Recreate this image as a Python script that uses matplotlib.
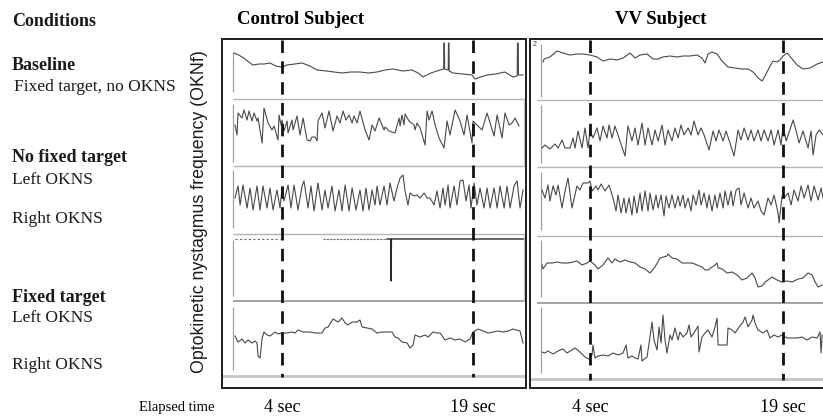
#!/usr/bin/env python3
"""OKN frequency traces for a control and a VV subject, five viewing conditions."""

import matplotlib.pyplot as plt
import numpy as np

plt.rcParams["font.family"] = ["Liberation Serif", "DejaVu Serif"]

FIG_W, FIG_H = 823, 416
TRACE = "#484848"
SEP = "#b4b4b4"

MARKS = [4, 19]  # seconds, dashed markers
MARK_LABELS = ["4 sec", "19 sec"]

# ---- control subject: time (s) / OKNf (arb. units above row baseline) ----
ctrl_base_t = [0.23, 0.6, 1.0, 1.4, 1.72, 2.2, 2.6, 3.06, 3.5, 4.0, 4.39, 5.0,
               5.57, 6.2, 6.75, 7.5, 8.1, 8.71, 9.4, 10.13, 10.8, 11.46, 12.1,
               12.72, 13.5, 14.21, 14.7, 15.08, 15.7, 16.41, 16.70, 16.72, 16.76,
               16.78, 17.06, 17.08, 17.12, 17.14, 17.43, 18.2, 18.93, 19.16, 19.6,
               20.1, 20.8, 21.5, 22.15, 22.48, 22.50, 22.56, 22.58, 22.93]
ctrl_base_v = [46, 44, 41, 37, 34, 35, 35, 36, 33, 32, 34, 35,
               36, 33, 29, 28, 27, 26, 27, 27, 26, 27, 29,
               30, 28, 29, 26, 22, 26, 29, 30, 56, 56,
               30, 29, 56, 56, 28, 26, 25, 24, 20, 22,
               24, 25, 27, 22, 23, 56, 56, 24, 24]

ctrl_nofix_left_t = [0.31, 0.47, 0.55, 0.86, 1.02, 1.26, 1.41, 1.65, 1.81, 2.04,
                     2.12, 2.44, 2.59, 2.91, 3.22, 3.38, 3.69, 3.77, 3.93, 4.01,
                     4.16, 4.40, 4.48, 4.79, 4.87, 5.18, 5.42, 5.66, 5.97, 6.21,
                     6.36, 6.60, 6.76, 6.83, 7.15, 7.38, 7.70, 8.01, 8.33, 8.56,
                     8.80, 9.03, 9.27, 9.51, 9.66, 9.90, 10.13, 10.53, 10.84, 11.08,
                     11.31, 11.63, 12.02, 12.10, 12.41, 12.88, 13.20, 13.28, 13.43, 13.59,
                     13.67, 13.98, 14.38, 14.45, 14.61, 14.85, 15.24, 15.40, 15.55, 15.79,
                     16.03, 16.34, 16.73, 16.97, 17.20, 17.60, 17.99, 18.30, 18.54, 18.93,
                     19.01, 19.32, 19.72, 20.11, 20.66, 20.90, 21.29, 21.52, 21.84, 22.07,
                     22.31, 22.62]
ctrl_nofix_left_v = [41, 31, 53, 48, 56, 46, 55, 45, 53, 45,
                     48, 23, 58, 43, 36, 40, 26, 51, 41, 46,
                     35, 45, 33, 46, 36, 50, 31, 48, 26, 25,
                     29, 29, 25, 45, 53, 38, 55, 35, 50, 43,
                     55, 46, 51, 43, 50, 43, 55, 36, 26, 41,
                     35, 48, 36, 39, 35, 33, 48, 40, 51, 41,
                     52, 45, 41, 36, 43, 38, 21, 55, 46, 55,
                     41, 28, 18, 45, 31, 56, 45, 31, 51, 23,
                     45, 41, 36, 53, 30, 51, 28, 53, 41, 43,
                     48, 40]

ctrl_nofix_right_t = [0.31, 0.55, 0.71, 0.94, 1.26, 1.49, 1.73, 2.04, 2.28, 2.51,
                      2.83, 3.06, 3.30, 3.61, 3.85, 4.01, 4.16, 4.48, 4.71, 4.95,
                      5.26, 5.58, 5.73, 6.05, 6.28, 6.52, 6.83, 7.15, 7.38, 7.62,
                      7.93, 8.17, 8.48, 8.72, 8.96, 9.27, 9.51, 9.82, 10.13, 10.37,
                      10.60, 10.84, 11.08, 11.31, 11.47, 11.70, 12.02, 12.25, 12.49, 12.80,
                      13.04, 13.28, 13.51, 13.67, 13.90, 14.06, 14.38, 14.61, 14.85, 15.16,
                      15.40, 15.63, 15.95, 16.18, 16.42, 16.65, 16.81, 17.05, 17.20, 17.52,
                      17.75, 17.99, 18.22, 18.46, 18.70, 18.85, 19.09, 19.32, 19.56, 19.87,
                      20.11, 20.35, 20.66, 20.90, 21.13, 21.45, 21.68, 21.92, 22.23, 22.47,
                      22.70, 22.94]
ctrl_nofix_right_v = [36, 48, 29, 49, 26, 46, 24, 48, 24, 48,
                      26, 46, 24, 44, 26, 46, 33, 49, 26, 49,
                      24, 48, 53, 26, 48, 23, 51, 24, 44, 26,
                      48, 23, 44, 23, 49, 23, 46, 24, 44, 23,
                      46, 24, 44, 29, 48, 29, 48, 29, 51, 33,
                      46, 56, 59, 43, 29, 41, 38, 39, 36, 41,
                      36, 36, 29, 43, 26, 46, 29, 49, 26, 48,
                      29, 53, 54, 33, 49, 26, 51, 29, 46, 26,
                      46, 26, 46, 26, 48, 26, 48, 26, 48, 53,
                      26, 44]

ctrl_fix_left_t = [0.30, 3.85, 7.25, 12.25, 12.55, 12.57, 12.60, 22.95]
ctrl_fix_left_v = [62, 62, 62, 62, 62, 20, 62, 62]

ctrl_fix_right_t = [0.31, 0.55, 0.86, 1.10, 1.34, 1.65, 1.89, 2.04, 2.12, 2.28,
                    2.44, 2.59, 2.83, 3.06, 3.46, 3.69, 4.01, 4.40, 4.79, 5.03,
                    5.26, 5.66, 6.21, 6.60, 7.15, 7.38, 7.62, 8.01, 8.41, 8.72,
                    8.96, 9.19, 9.51, 9.90, 10.13, 10.29, 10.68, 11.08, 11.47, 11.86,
                    12.25, 12.65, 12.88, 13.12, 13.43, 13.83, 14.06, 14.30, 14.45, 14.85,
                    15.24, 15.48, 15.87, 16.18, 16.42, 16.81, 17.20, 17.60, 17.99, 18.38,
                    18.77, 19.01, 19.40, 19.80, 20.19, 20.58, 20.97, 21.37, 21.76, 22.15,
                    22.70, 22.94]
ctrl_fix_right_v = [40, 34, 37, 33, 36, 33, 35, 33, 20, 18,
                    38, 44, 41, 40, 44, 42, 43, 43, 44, 43,
                    46, 44, 44, 43, 43, 48, 49, 57, 54, 58,
                    53, 51, 54, 54, 56, 49, 48, 47, 43, 44,
                    44, 44, 39, 38, 34, 33, 28, 31, 41, 39,
                    41, 39, 44, 43, 43, 36, 38, 36, 37, 34,
                    37, 44, 47, 45, 43, 44, 45, 44, 45, 47,
                    45, 33]

# ---- VV subject ----
vv_base_t = [0.35, 0.43, 0.89, 1.44, 1.90, 2.45, 2.99, 3.46, 4.00, 4.55,
             5.01, 5.56, 6.10, 6.57, 7.11, 7.50, 7.89, 8.43, 8.90, 9.29,
             9.67, 10.22, 10.76, 11.23, 11.77, 12.32, 12.70, 12.94, 13.17, 13.48,
             13.87, 14.26, 14.72, 15.27, 15.81, 16.28, 16.67, 17.06, 17.37, 17.60,
             17.99, 18.22, 18.53, 18.76, 19.00, 19.31, 19.70, 20.09, 20.55, 21.10,
             21.64, 22.11]
vv_base_v = [38, 41, 43, 49, 47, 45, 46, 46, 45, 43,
             39, 41, 40, 42, 47, 42, 45, 46, 41, 41,
             43, 44, 43, 44, 44, 45, 42, 37, 46, 48,
             46, 39, 33, 32, 31, 31, 28, 22, 19, 24,
             34, 39, 38, 40, 44, 47, 41, 35, 31, 32,
             36, 38]

vv_nofix_left_t = [0.27, 0.50, 0.89, 1.28, 1.52, 1.83, 2.06, 2.45, 2.68, 2.84,
                   3.07, 3.38, 3.61, 3.85, 4.00, 4.23, 4.55, 4.78, 5.01, 5.32,
                   5.48, 5.71, 5.94, 6.72, 6.95, 7.26, 7.50, 7.73, 8.04, 8.28,
                   8.51, 8.82, 9.05, 9.29, 9.60, 9.83, 10.06, 10.37, 10.60, 10.84,
                   11.07, 11.30, 11.62, 11.85, 12.08, 12.39, 12.63, 12.86, 13.25, 13.56,
                   13.79, 14.02, 14.34, 14.57, 14.80, 15.19, 15.50, 15.73, 15.97, 16.28,
                   16.51, 16.74, 17.05, 17.29, 17.52, 17.83, 18.07, 18.30, 18.61, 18.84,
                   19.00, 19.24, 19.78, 20.01, 20.24, 20.55, 20.94, 21.17, 21.33, 21.56,
                   21.80, 22.11]
vv_nofix_left_v = [19, 22, 18, 23, 19, 27, 19, 19, 29, 19,
                   36, 19, 39, 19, 37, 29, 39, 26, 41, 29,
                   42, 29, 41, 11, 41, 26, 39, 22, 44, 22,
                   39, 22, 37, 26, 42, 22, 37, 26, 39, 29,
                   42, 32, 39, 32, 46, 32, 39, 32, 17, 36,
                   26, 37, 26, 36, 27, 11, 37, 27, 39, 27,
                   37, 26, 37, 26, 37, 26, 37, 22, 37, 22,
                   41, 26, 47, 36, 24, 36, 19, 36, 12, 32,
                   37, 32]

vv_nofix_right_t = [0.27, 0.50, 0.74, 0.89, 1.13, 1.36, 1.52, 1.83, 2.06, 2.29,
                    2.60, 2.99, 3.22, 3.46, 3.85, 4.00, 4.16, 4.47, 4.62, 4.86,
                    5.17, 5.48, 5.79, 6.02, 6.18, 6.41, 6.64, 6.80, 7.03, 7.26,
                    7.42, 7.65, 7.89, 8.04, 8.28, 8.51, 8.66, 8.90, 9.13, 9.29,
                    9.52, 9.75, 9.91, 10.14, 10.37, 10.60, 10.84, 10.99, 11.23, 11.38,
                    11.62, 11.85, 12.01, 12.24, 12.47, 12.63, 12.86, 13.09, 13.25, 13.48,
                    13.71, 13.87, 14.10, 14.34, 14.49, 14.72, 14.96, 15.11, 15.35, 15.58,
                    15.73, 15.97, 16.28, 16.51, 16.74, 17.05, 17.29, 17.52, 17.83, 18.07,
                    18.30, 18.61, 18.69, 18.92, 19.08, 19.39, 19.62, 19.85, 20.16, 20.40,
                    20.63, 20.94, 21.17, 21.41, 21.72, 21.95, 22.11]
vv_nofix_right_v = [46, 38, 51, 35, 50, 41, 51, 28, 45, 58,
                    28, 50, 46, 53, 53, 55, 45, 50, 46, 52,
                    45, 51, 38, 25, 41, 23, 38, 23, 38, 21,
                    40, 23, 43, 25, 45, 25, 43, 26, 41, 28,
                    41, 20, 40, 28, 41, 28, 40, 30, 41, 28,
                    38, 25, 41, 31, 46, 31, 43, 28, 41, 25,
                    41, 28, 43, 28, 45, 31, 45, 30, 46, 48,
                    31, 43, 28, 38, 28, 35, 25, 21, 38, 31,
                    41, 23, 13, 40, 38, 43, 31, 46, 35, 50,
                    38, 51, 35, 50, 36, 48, 38]

vv_fix_left_t = [0.27, 0.35, 0.66, 1.05, 1.44, 1.83, 2.29, 2.68, 2.99, 3.38,
                 3.77, 4.00, 4.39, 4.62, 5.01, 5.40, 5.71, 5.94, 6.33, 6.72,
                 7.11, 7.50, 7.89, 8.28, 8.66, 9.05, 9.44, 9.98, 10.06, 10.37,
                 10.76, 11.15, 11.54, 11.93, 12.32, 12.70, 12.94, 13.17, 13.48, 13.71,
                 13.87, 13.95, 14.26, 14.65, 15.04, 15.43, 15.81, 16.20, 16.59, 16.82,
                 17.05, 17.37, 17.60, 17.83, 18.14, 18.53, 18.92, 19.31, 19.70, 20.16,
                 20.55, 20.94, 21.25, 21.49, 21.72, 22.03]
vv_fix_left_v = [38, 34, 40, 40, 41, 40, 40, 41, 42, 38,
                 40, 42, 38, 34, 38, 45, 40, 44, 41, 43,
                 41, 40, 36, 34, 30, 36, 45, 47, 49, 45,
                 44, 40, 40, 40, 38, 36, 33, 33, 36, 38,
                 40, 35, 34, 30, 31, 28, 23, 25, 30, 25,
                 16, 17, 21, 23, 26, 23, 21, 22, 21, 24,
                 25, 30, 28, 21, 16, 18]

vv_fix_right_t = [0.27, 0.50, 0.74, 1.13, 1.52, 1.90, 2.21, 2.60, 2.84, 3.22,
                  3.61, 3.92, 4.16, 4.23, 4.39, 4.62, 5.01, 5.40, 5.79, 6.18,
                  6.57, 6.80, 6.95, 7.26, 7.50, 7.73, 7.96, 8.04, 8.43, 8.66,
                  8.82, 8.97, 9.21, 9.36, 9.52, 9.67, 9.83, 9.98, 10.22, 10.37,
                  10.60, 10.84, 10.99, 11.23, 11.54, 11.69, 11.85, 12.08, 12.39, 12.47,
                  12.70, 12.94, 13.17, 13.48, 13.71, 13.87, 13.95, 14.65, 14.72, 15.04,
                  15.27, 15.58, 15.89, 16.05, 16.28, 16.59, 16.67, 16.82, 17.05, 17.44,
                  17.75, 17.99, 18.30, 18.61, 18.92, 19.31, 19.70, 20.09, 20.47, 20.86,
                  21.25, 21.64, 21.87, 21.95, 22.03]
vv_fix_right_v = [27, 26, 28, 25, 28, 30, 26, 29, 31, 27,
                  22, 20, 24, 34, 21, 23, 24, 23, 26, 24,
                  26, 34, 21, 23, 21, 20, 34, 18, 22, 42,
                  57, 39, 29, 52, 36, 64, 39, 26, 44, 39,
                  51, 39, 47, 42, 46, 54, 42, 46, 53, 27,
                  42, 46, 49, 42, 52, 61, 34, 34, 51, 49,
                  46, 52, 57, 62, 52, 59, 64, 56, 49, 46,
                  49, 41, 44, 42, 44, 41, 41, 41, 42, 39,
                  42, 41, 47, 26, 44]

CONDITIONS = [
    ("Conditions", True, 12, 21),
    ("Baseline", True, 12, 65),
    ("Fixed target, no OKNS", False, 14, 87),
    ("No fixed target", True, 12, 157),
    ("Left OKNS", False, 12, 180),
    ("Right OKNS", False, 12, 219),
    ("Fixed target", True, 12, 297),
    ("Left OKNS", False, 12, 318),
    ("Right OKNS", False, 12, 365),
]


def fx(px):
  return px / FIG_W


def fy(py):
  return 1 - py / FIG_H


def add_panel(fig, left, right, t_left, t_right, right_spine=True):
  ax = fig.add_axes([fx(left), fy(388), fx(right) - fx(left), fy(39) - fy(388)])
  ax.set_xlim(t_left, t_right)
  ax.set_ylim(388, 39)
  ax.set_xticks([])
  ax.set_yticks([])
  for spine in ax.spines.values():
    spine.set_color("#1e1e1e")
    spine.set_linewidth(1.4)
  ax.spines["right"].set_visible(right_spine)
  return ax


def draw_rows(ax, rows, bases, axis_t, axis_spans, sep_start, t_left, t_right):
  for y in bases[:3]:
    ax.hlines(y, sep_start, t_right, color=SEP, linewidth=1.0)
  ax.hlines(bases[3], sep_start, t_right, color="#8a8a8a", linewidth=1.1)
  ax.hlines(bases[4], t_left, t_right, color="#c4c4c4", linewidth=2.0)
  for y0, y1 in axis_spans:
    ax.vlines(axis_t, y0, y1, color="#a0a0a0", linewidth=0.9)
  for (t, v), base in zip(rows, bases):
    if t is None:
      continue
    ax.plot(t, base - np.asarray(v, dtype=float), color=TRACE, linewidth=0.8)


fig = plt.figure(figsize=(FIG_W / 100, FIG_H / 100), dpi=100)

# control subject panel
ax_c = add_panel(fig, 222, 526, -0.71, 23.17)
ctrl_bases = [99, 166, 234, 301, 376]
draw_rows(
    ax_c,
    [(ctrl_base_t, ctrl_base_v), (ctrl_nofix_left_t, ctrl_nofix_left_v),
     (ctrl_nofix_right_t, ctrl_nofix_right_v), (None, None),
     (ctrl_fix_right_t, ctrl_fix_right_v)],
    ctrl_bases, 0.16,
    [(52, 92), (104, 162), (170, 228), (240, 296), (307, 370)],
    0.16, -0.71, 23.17,
)
ax_c.vlines(23.0, 99, 166, color="#c8c8c8", linewidth=0.9)
ax_c.vlines(23.0, 234, 301, color="#c8c8c8", linewidth=0.9)
fl = ctrl_bases[3] - np.asarray(ctrl_fix_left_v, dtype=float)
ax_c.plot(ctrl_fix_left_t[0:2], fl[0:2], color="#6a6a6a", linewidth=0.8, linestyle=(0, (2, 2)))
ax_c.plot(ctrl_fix_left_t[2:4], fl[2:4], color="#6a6a6a", linewidth=0.8, linestyle=(0, (2, 1)))
ax_c.plot(ctrl_fix_left_t[3:], fl[3:], color="#2a2a2a", linewidth=1.0)
ax_c.vlines(MARKS, 40, 377, color="#111111", linewidth=2.0, linestyles=(0, (4.5, 3)))

# VV subject panel
ax_v = add_panel(fig, 530, 823, -0.66, 22.1, right_spine=False)
vv_bases = [100, 167, 236, 303, 379]
draw_rows(
    ax_v,
    [(vv_base_t, vv_base_v), (vv_nofix_left_t, vv_nofix_left_v),
     (vv_nofix_right_t, vv_nofix_right_v), (vv_fix_left_t, vv_fix_left_v),
     (vv_fix_right_t, vv_fix_right_v)],
    vv_bases, 0.22,
    [(44, 97), (105, 163), (172, 230), (240, 297), (307, 373)],
    -0.1, -0.66, 22.1,
)
ax_v.vlines(MARKS, 40, 380, color="#111111", linewidth=2.0, linestyles=(0, (4.5, 3)))
ax_v.text(-0.42, 44, "2", fontsize=5, family=["Liberation Sans", "DejaVu Sans"],
          ha="left", va="center", color="#333333")

# titles
fig.text(fx(301), fy(20), "Control Subject", fontsize=13.5, fontweight="bold",
         ha="center", va="center")
fig.text(fx(661), fy(20), "VV Subject", fontsize=13.5, fontweight="bold",
         ha="center", va="center")

# left column of conditions
for label, bold, px, py in CONDITIONS:
  fig.text(fx(px), fy(py), label, fontsize=13 if bold else 12.5,
           fontweight="bold" if bold else "normal", ha="left", va="center",
           color="#1a1a1a")

fig.text(fx(199), fy(212), "Optokinetic nystagmus frequency (OKNf)", rotation=90,
         fontsize=12.8, family=["Liberation Sans", "DejaVu Sans"], ha="center",
         va="center", color="#1a1a1a")

# elapsed time axis labels
fig.text(fx(215), fy(407), "Elapsed time", fontsize=10.5, ha="right", va="center")
for ax in (ax_c, ax_v):
  for t, label in zip(MARKS, MARK_LABELS):
    x_disp = ax.transData.transform((t, 0))[0]
    fig.text(x_disp / fig.bbox.width, fy(407), label, fontsize=13,
             ha="center", va="center")

fig.savefig("out.png", dpi=100)
plt.close(fig)
